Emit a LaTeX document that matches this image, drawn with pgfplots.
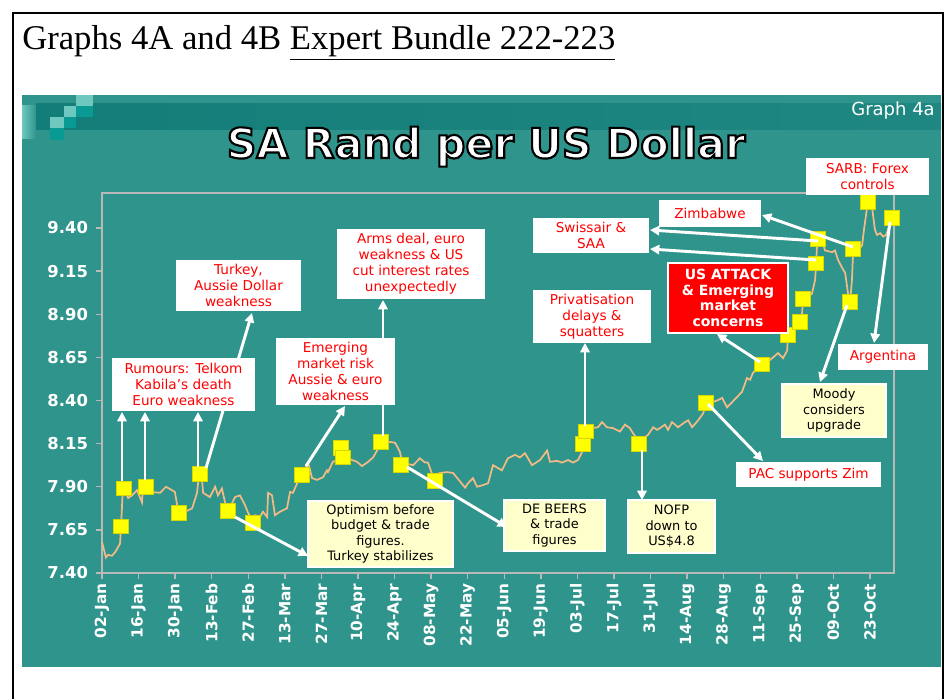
\documentclass[border=0pt]{standalone}
\usepackage{pgfplots}
\pgfplotsset{compat=1.18}
\usepackage{fontspec}
\setmainfont{DejaVu Sans}
\newfontfamily\timesfont{Liberation Serif}
\usetikzlibrary{arrows.meta}

\definecolor{panel}{RGB}{47,148,139}
\definecolor{band}{RGB}{19,125,121}
\definecolor{lightsq}{RGB}{110,200,192}
\definecolor{midsq}{RGB}{10,154,148}
\definecolor{randline}{RGB}{242,186,132}
\definecolor{marker}{RGB}{255,255,0}
\definecolor{markeredge}{RGB}{215,215,0}
\definecolor{axisgray}{RGB}{185,185,185}
\definecolor{notered}{RGB}{255,0,0}
\definecolor{notecream}{RGB}{255,255,204}

% box corners in pixels, box style, text style, text
\newcommand{\note}[7]{%
  \path[#5] (#1,#2) rectangle (#3,#4);
  \node[align=center, inner sep=0pt, font=\fontsize{10.2}{12}\selectfont, #6]
    at ({(#1+#3)/2},{(#2+#4)/2}) {#7};}

\begin{document}
\begin{tikzpicture}
% page, frame and slide panel (pixel units, y down)
\begin{scope}[x=0.75pt,y=-0.75pt]
  \useasboundingbox (0,0) rectangle (946,699);
  \fill[white] (0,0) rectangle (946,699);
  \draw[line width=2.2pt] (13,699) -- (13,13) -- (943,13) -- (943,699);
  \node[anchor=base west, inner sep=0pt, font=\timesfont\fontsize{26}{30}\selectfont]
    at (22,50) {Graphs 4A and 4B \underline{Expert Bundle 222-223}};
  \fill[panel] (22,95) rectangle (941,667);
  \shade[left color=band, right color=band!55!panel] (36,104) rectangle (941,129);
  \shade[left color=lightsq, right color=panel] (22,106) rectangle (36,138);
  \fill[lightsq] (76,95) rectangle (93,106);
  \fill[band] (36,106) rectangle (50,117);
  \fill[lightsq] (64,106) rectangle (76,117);
  \fill[midsq] (76,106) rectangle (93,117);
  \fill[lightsq] (50,117) rectangle (64,128);
  \fill[midsq] (64,117) rectangle (76,128);
  \fill[midsq] (50,128) rectangle (64,140);
  \node[anchor=base east, inner sep=0pt, text=white, font=\fontsize{13.5}{16}\selectfont]
    at (935,116) {Graph 4a};
  % white heading with black outline (stroked glyphs)
  \node[anchor=base, inner sep=0pt, text=white, font=\bfseries\fontsize{31}{36}\selectfont]
    at (486,158) {\special{pdf:literal direct 2 Tr 1.6 w 0 0 0 RG}SA Rand per US Dollar\special{pdf:literal direct 0 Tr}};
\end{scope}

\begin{axis}[
  at={(76.5pt,-429.75pt)}, anchor=south west,
  width=594pt, height=285pt, scale only axis,
  xmin=0, xmax=303.2, ymin=7.40, ymax=9.603,
  axis line style={draw=axisgray, line width=1.1pt},
  tick style={draw=axisgray, line width=1.1pt},
  major tick length=4.5pt, tick align=outside,
  xtick pos=lower, ytick pos=left,
  xtick={0,14,...,294},
  xticklabels={02-Jan,16-Jan,30-Jan,13-Feb,27-Feb,13-Mar,27-Mar,10-Apr,24-Apr,08-May,22-May,05-Jun,19-Jun,03-Jul,17-Jul,31-Jul,14-Aug,28-Aug,11-Sep,25-Sep,09-Oct,23-Oct},
  xticklabel style={rotate=90, anchor=east, text=white, font=\bfseries\fontsize{11.5}{13}\selectfont},
  ytick={7.40,7.65,7.90,8.15,8.40,8.65,8.90,9.15,9.40},
  yticklabels={7.40,7.65,7.90,8.15,8.40,8.65,8.90,9.15,9.40},
  yticklabel style={text=white, xshift=-2.5pt, font=\bfseries\fontsize{12.3}{14}\selectfont},
  clip=false,
]
% rand per dollar, day 0 = 02-Jan-2001
\addplot[randline, line width=1.3pt, no marks] coordinates {
(0,7.58)(1.5,7.49)(2.3,7.505)(3.8,7.50)(5.0,7.52)(6.9,7.57)(7.3,7.67)(8.0,7.90)
(10.0,7.835)(11.5,7.85)(13.4,7.88)(15.3,7.81)(15.7,7.90)(16.8,7.90)(18.4,7.87)
(22.2,7.865)(24.5,7.90)(27.9,7.87)(29.1,7.765)(31.8,7.755)(34.5,7.775)(36.4,7.865)
(37.1,7.97)(38.3,7.94)(38.7,7.865)(41.3,7.84)(43.3,7.90)(44.4,7.85)(45.9,7.89)
(47.1,7.81)(48.2,7.755)(49.8,7.805)(50.9,7.84)(52.8,7.85)(54.7,7.795)(55.9,7.75)
(57.4,7.71)(58.6,7.735)(60.5,7.725)(61.6,7.755)(63.2,7.725)(63.6,7.865)(65.1,7.85)
(66.2,7.735)(68.1,7.755)(70.8,7.775)(72.0,7.87)(73.1,7.865)(74.7,7.92)(76.2,7.98)
(78.5,8.025)(79.2,8.025)(80.4,7.95)(82.3,7.94)(84.6,7.955)(86.1,7.995)(86.5,7.985)
(88.4,8.045)(90.4,8.055)(91.9,8.065)(93.8,8.07)(95.7,8.055)(97.6,8.045)(99.5,8.02)
(101.5,8.04)(103.8,8.07)(106.4,8.14)(110.3,8.16)(112.2,8.155)(113.3,8.125)(114.1,8.10)
(114.9,8.04)(119.1,8.025)(121.7,8.065)(123.7,8.04)(124.8,8.04)(126.7,7.96)(129.4,7.98)
(132.1,7.985)(134.4,7.98)(137.1,7.93)(139.0,7.895)(140.1,7.92)(142.0,7.95)(143.6,7.90)
(145.9,7.91)(147.8,7.92)(149.7,8.025)(153.1,7.995)(155.4,8.065)(158.1,8.085)(160.0,8.07)
(161.9,8.095)(163.1,8.065)(164.6,8.025)(167.7,8.055)(170.4,8.11)(171.5,8.045)(174.2,8.05)
(176.1,8.04)(178.4,8.055)(180.3,8.04)(182.2,8.055)(184.1,8.11)(184.9,8.20)(187.6,8.24)
(189.9,8.245)(191.4,8.275)(193.3,8.245)(195.6,8.24)(198.3,8.22)(200.2,8.26)(202.1,8.24)
(203.3,8.21)(204.8,8.18)(206.0,8.165)(207.1,8.18)(209.0,8.20)(211.0,8.245)(212.5,8.23)
(213.6,8.24)(215.5,8.26)(216.7,8.23)(218.2,8.275)(219.4,8.26)(220.5,8.245)(223.2,8.275)
(224.4,8.285)(225.9,8.245)(228.2,8.285)(230.1,8.325)(231.2,8.375)(233.5,8.39)(235.5,8.40)
(237.4,8.415)(239.3,8.36)(241.2,8.39)(243.1,8.42)(245.0,8.45)(246.2,8.50)(246.9,8.53)
(248.1,8.52)(249.2,8.56)(251.1,8.59)(252.7,8.61)(254.6,8.62)(256.9,8.65)(258.8,8.675)
(260.7,8.645)(262.3,8.69)(262.6,8.78)(264.5,8.81)(266.5,8.825)(267.2,8.855)(268.0,8.905)
(268.4,8.99)(270.3,9.00)(271.8,9.02)(273.0,9.10)(273.4,9.195)(273.7,9.29)(274.1,9.335)
(274.9,9.33)(276.0,9.31)(276.8,9.27)(279.5,9.26)(280.6,9.27)(281.8,9.215)(283.3,9.17)
(284.5,9.14)(285.6,9.02)(286.4,8.97)(287.1,9.10)(287.5,9.245)(288.3,9.28)(289.4,9.27)
(291.0,9.30)(291.7,9.39)(292.9,9.52)(293.2,9.55)(294.8,9.52)(295.9,9.39)(296.7,9.36)
(297.9,9.37)(299.0,9.35)(300.2,9.36)(302.5,9.46)
};
% event markers
\addplot[only marks, mark=square*, mark size=5.5pt,
  mark options={fill=marker, draw=markeredge, line width=0.6pt}] coordinates {
(7.3,7.67)(8.4,7.89)(16.8,7.90)(29.5,7.75)(37.5,7.975)(48.2,7.76)(57.8,7.69)
(76.6,7.97)(91.5,8.125)(92.3,8.07)(106.8,8.16)(114.5,8.025)(127.5,7.935)
(184.2,8.15)(185.3,8.22)(205.6,8.15)(231.2,8.385)(252.7,8.61)(262.6,8.78)
(267.2,8.855)(268.4,8.99)(273.4,9.195)(274.1,9.335)(286.4,8.97)(287.5,9.28)
(293.3,9.55)(302.5,9.46)
};
\end{axis}

% call-outs (pixel units, y down)
\begin{scope}[x=0.75pt,y=-0.75pt]
  \tikzset{arr/.style={draw=white, line width=2.2pt, -{Triangle[length=7pt,width=7pt]}}}
  \draw[arr] (122,481) -- (122,412);
  \draw[arr] (145,480) -- (145,412);
  \draw[arr] (198,467) -- (198,412);
  \draw[arr] (206,468) -- (252,313);
  \draw[arr] (306,466) -- (345,406);
  \draw[arr] (383,436) -- (383,300);
  \draw[arr] (235,517) -- (308,556);
  \draw[arr] (407,467) -- (507,527);
  \draw[arr] (642,450) -- (642,500);
  \draw[arr] (585,426) -- (585,343);
  \draw[arr] (760,362) -- (717,334);
  \draw[arr] (818,241) -- (650,230);
  \draw[arr] (816,260) -- (650,249);
  \draw[arr] (853,247) -- (762,215);
  \draw[arr] (890,222) -- (874,343);
  \draw[arr] (847,305) -- (820,382);
  \draw[arr] (708,404) -- (763,461);

  \note{112}{358}{255}{411}{fill=white}{text=notered}{Rumours: Telkom\\Kabila's death\\Euro weakness}
  \note{176}{260}{301}{311}{fill=white}{text=notered}{Turkey,\\Aussie Dollar\\weakness}
  \note{276}{338}{395}{405}{fill=white}{text=notered}{Emerging\\market risk\\Aussie \& euro\\weakness}
  \note{337}{229}{485}{299}{fill=white}{text=notered}{Arms deal, euro\\weakness \& US\\cut interest rates\\unexpectedly}
  \note{308}{501}{453}{567}{fill=notecream, draw=white, line width=0.8pt}{text=black, font=\fontsize{9.7}{11.6}\selectfont}{Optimism before\\budget \& trade\\figures.\\Turkey stabilizes}
  \note{504}{500}{605}{551}{fill=notecream, draw=white, line width=0.8pt}{text=black, font=\fontsize{9.7}{11.6}\selectfont}{DE BEERS\\\& trade\\figures}
  \note{628}{500}{715}{553}{fill=notecream, draw=white, line width=0.8pt}{text=black, font=\fontsize{9.7}{11.6}\selectfont}{NOFP\\down to\\US\$4.8}
  \note{533}{290}{651}{343}{fill=white}{text=notered}{Privatisation\\delays \&\\squatters}
  \note{668}{263}{788}{333}{fill=notered, draw=white, line width=1.2pt}{text=white, font=\bfseries\fontsize{10.5}{11.6}\selectfont}{US ATTACK\\\& Emerging\\market\\concerns}
  \note{533}{218}{649}{253}{fill=white}{text=notered}{Swissair \&\\SAA}
  \note{659}{200}{761}{227}{fill=white}{text=notered}{Zimbabwe}
  \note{806}{158}{929}{195}{fill=white}{text=notered}{SARB: Forex\\controls}
  \note{838}{344}{928}{370}{fill=white}{text=notered}{Argentina}
  \note{782}{384}{886}{437}{fill=notecream, draw=white, line width=0.8pt}{text=black, font=\fontsize{9.7}{11.6}\selectfont}{Moody\\considers\\upgrade}
  \note{736}{462}{881}{487}{fill=white}{text=notered}{PAC supports Zim}
\end{scope}
\end{tikzpicture}
\end{document}
